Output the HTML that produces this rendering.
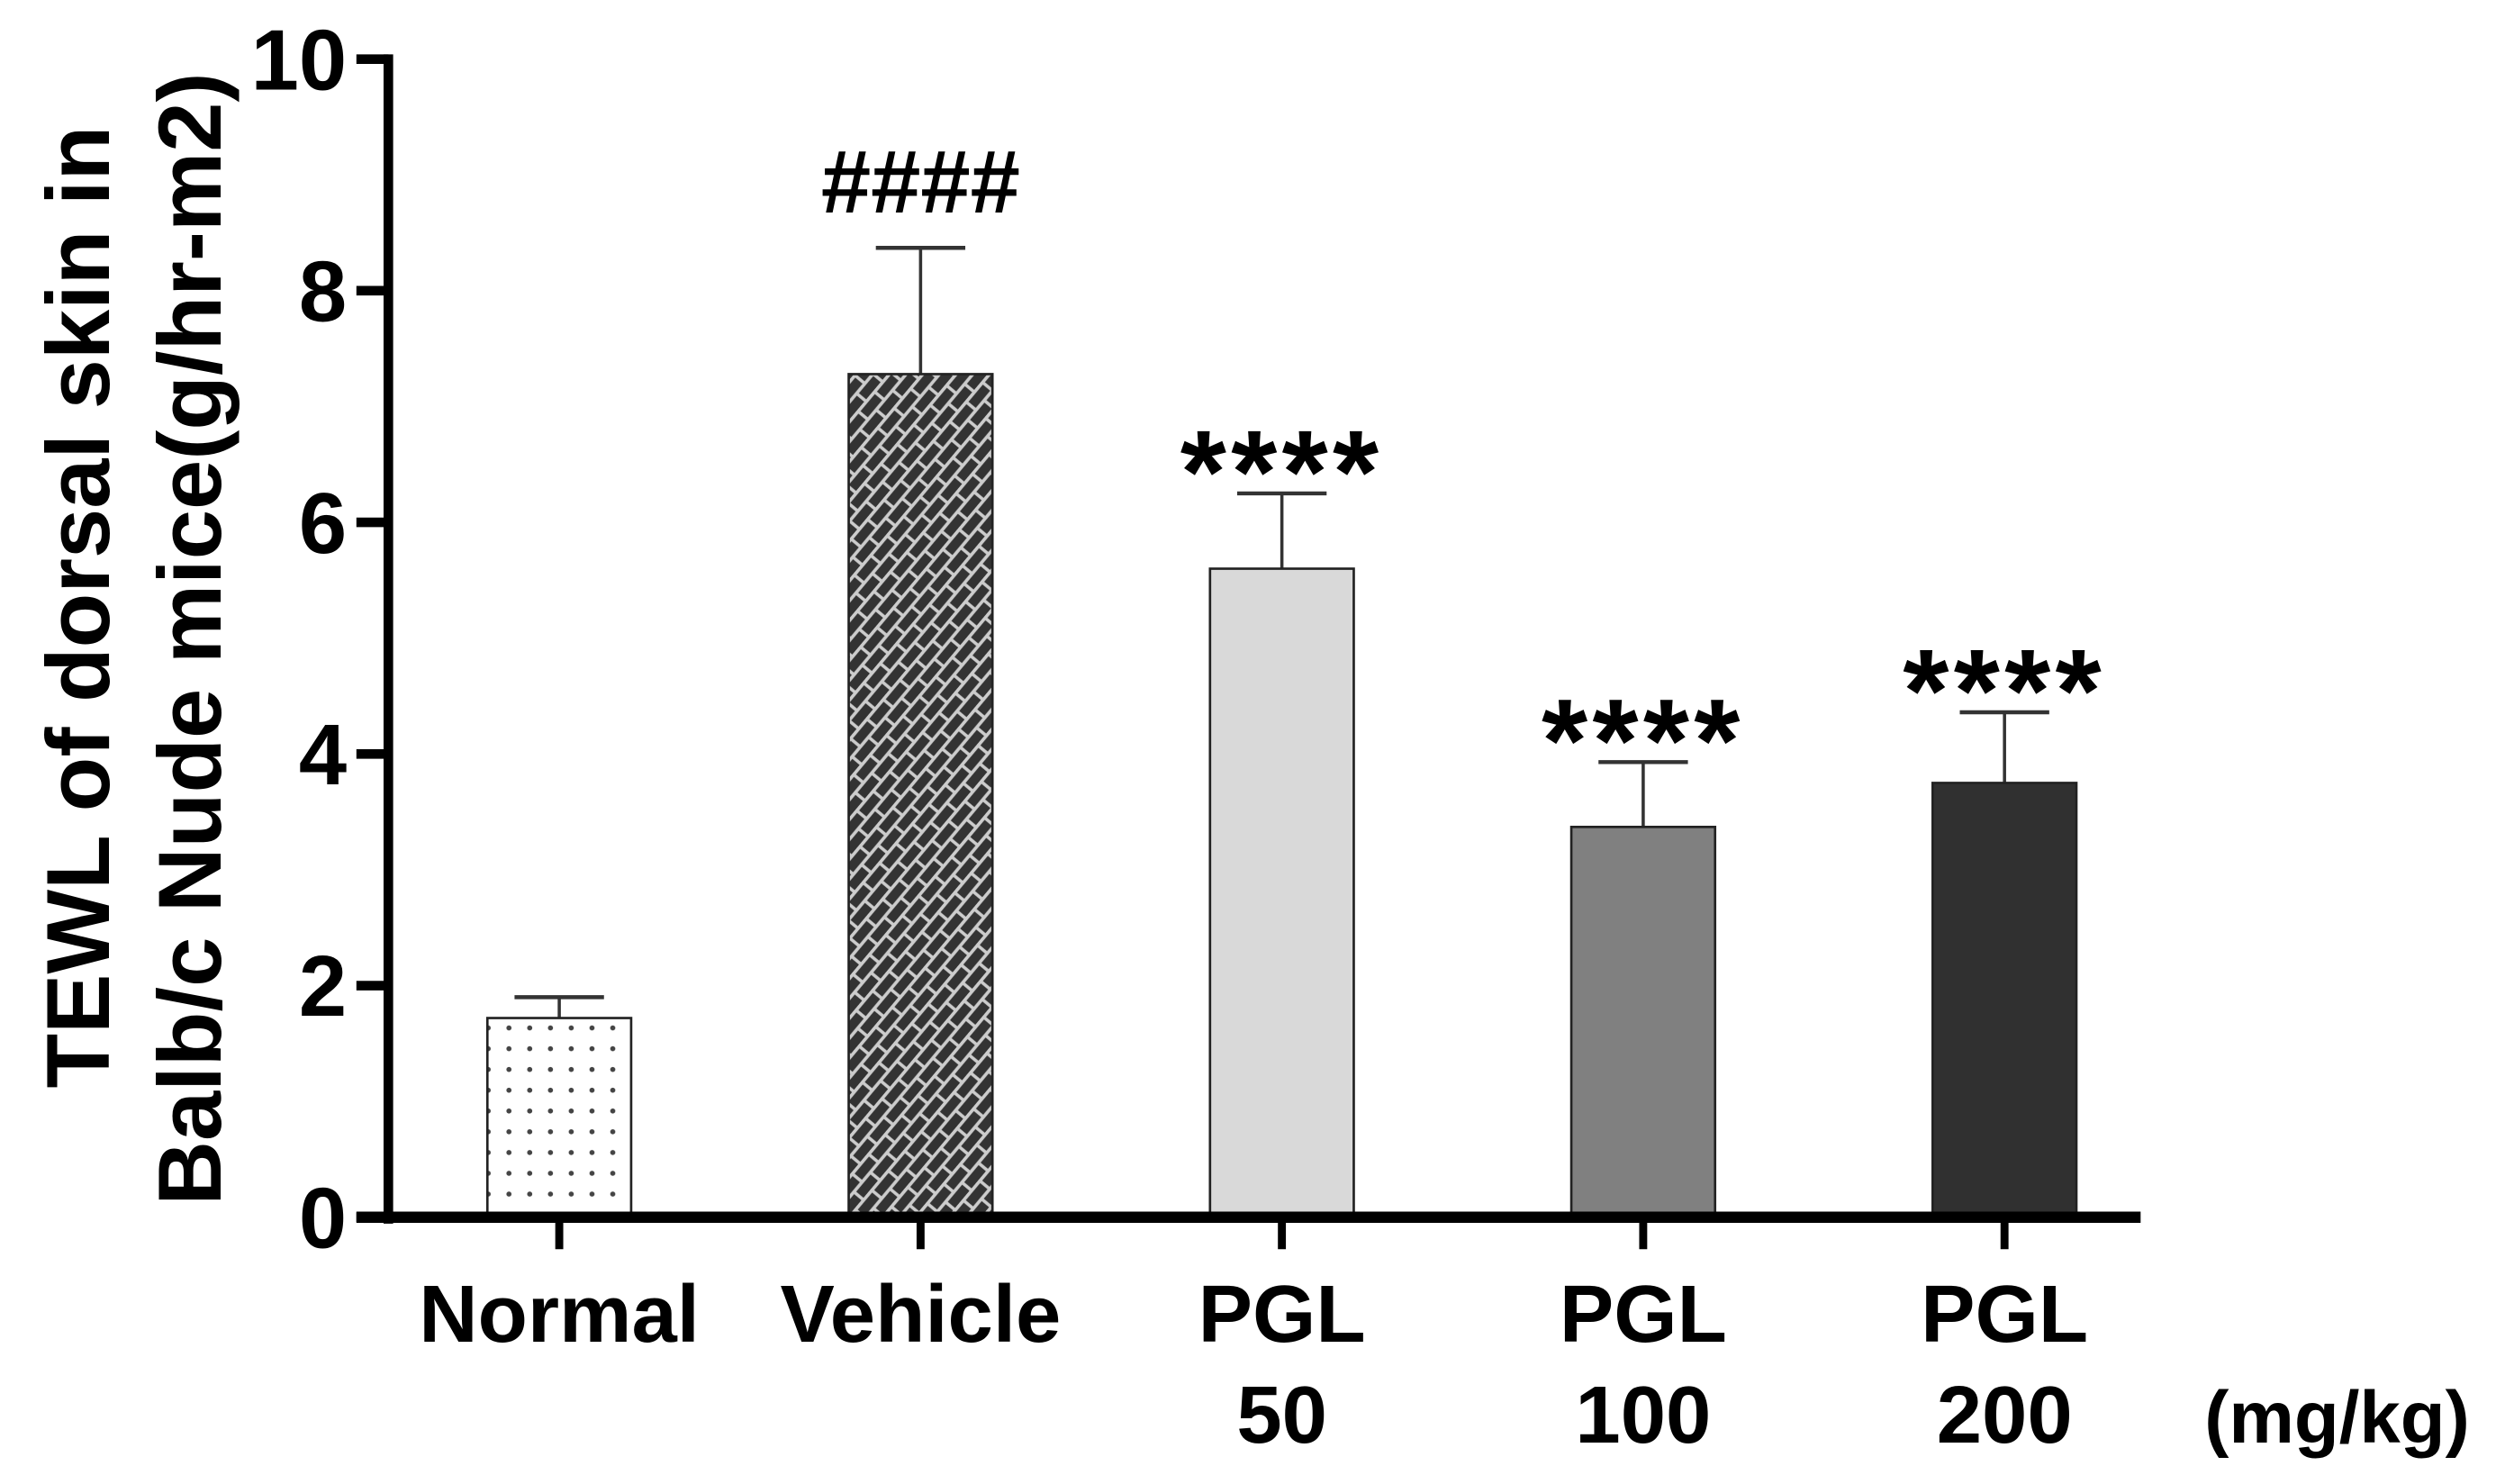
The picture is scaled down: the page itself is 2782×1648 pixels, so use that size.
<!DOCTYPE html>
<html><head><meta charset="utf-8"><style>
html,body{margin:0;padding:0;background:#fff;}
svg{display:block;}
text{font-family:"Liberation Sans",Arial,sans-serif;font-weight:bold;fill:#000;}
</style></head><body>
<svg id="chart" width="2782" height="1648" viewBox="0 0 1568 929" xmlns="http://www.w3.org/2000/svg">
<defs>
<pattern id="dots" patternUnits="userSpaceOnUse" width="13" height="13"><rect width="13" height="13" fill="#fff"/><circle cx="6.5" cy="6.5" r="1.6" fill="#444"/></pattern>
<pattern id="brick" patternUnits="userSpaceOnUse" width="16" height="16" patternTransform="rotate(-50)"><rect width="16" height="16" fill="#333"/><line x1="0" y1="1" x2="16" y2="1" stroke="#ccc" stroke-width="2"/><line x1="0" y1="9" x2="16" y2="9" stroke="#ccc" stroke-width="2"/><line x1="4" y1="1" x2="4" y2="9" stroke="#ccc" stroke-width="2"/><line x1="12" y1="9" x2="12" y2="17" stroke="#ccc" stroke-width="2"/></pattern>
</defs>
<g id="plot"></g>
</svg>
<script>
const categories = ["Normal","Vehicle","PGL 50","PGL 100","PGL 200"];
const means = [1.72, 7.28, 5.6, 3.37, 3.75];
const errors = [0.18, 1.09, 0.65, 0.56, 0.61];
const marks = ["", "####", "****", "****", "****"];
const yTicks = [0,2,4,6,8,10];
const line1 = ["Normal","Vehicle","PGL","PGL","PGL"];
const line2 = ["","","50","100","200"];
const fills = ["url(#dots)","url(#brick)","#d9d9d9","#808080","#303030"];

const NS="http://www.w3.org/2000/svg";
const g=document.getElementById('plot');
const x0=243, y0=762, yTop=37, xEnd=1340;
const yScale=v=>y0-(v/10)*(y0-yTop);
const xScale=i=>350+i*226.2;
function mk(tag,attrs,parent){const e=document.createElementNS(NS,tag);for(const k in attrs)e.setAttribute(k,attrs[k]);(parent||g).appendChild(e);return e;}

categories.forEach((c,i)=>{
  const cx=xScale(i), bw=90;
  const yv=yScale(means[i]), ye=yScale(means[i]+errors[i]);
  const el=mk('line',{x1:cx,x2:cx,y1:yv,y2:ye,stroke:'#333','stroke-width':2});
  
  
  const cap=mk('line',{x1:cx-28,x2:cx+28,y1:ye,y2:ye,stroke:'#333','stroke-width':2.5});
  
  
  const b=mk('rect',{x:cx-bw/2,y:yv,width:bw,height:y0-yv,fill:fills[i],stroke:'#222','stroke-width':1.5});
  
  
  if(marks[i]){
    const isHash=marks[i][0]=='#';
    const t=mk('text',{x:cx,y:ye-(isHash?22:-12),'text-anchor':'middle','font-size':isHash?56:74,'font-weight':isHash?'bold':'normal','letter-spacing':isHash?0:3});
    t.textContent=marks[i];
    
    
  }
  const tk=mk('line',{x1:cx,x2:cx,y1:y0,y2:y0+20,stroke:'#000','stroke-width':5});
  
  
  const l1=mk('text',{x:cx,y:840,'text-anchor':'middle','font-size':51});
  l1.textContent=line1[i];
  
  
  if(line2[i]){
    const l2=mk('text',{x:cx,y:903,'text-anchor':'middle','font-size':51});
    l2.textContent=line2[i];
    
    
  }
});
const ya=mk('line',{x1:x0,x2:x0,y1:yTop-3,y2:y0+4,stroke:'#000','stroke-width':6});


const xa=mk('line',{x1:x0-20,x2:xEnd,y1:y0,y2:y0,stroke:'#000','stroke-width':7});


yTicks.forEach(v=>{
  const y=yScale(v);
  const t=mk('line',{x1:x0-20,x2:x0,y1:y,y2:y,stroke:'#000','stroke-width':6});
  
  
  const l=mk('text',{x:x0-26,y:y+19,'text-anchor':'end','font-size':54});
  l.textContent=v;
  
  
});
const unit=mk('text',{x:1463,y:903,'text-anchor':'middle','font-size':46});
unit.textContent='(mg/kg)';


const t1=mk('text',{x:0,y:0,'text-anchor':'middle','font-size':56,transform:'translate(68,380) rotate(-90)'});
t1.textContent='TEWL of dorsal skin in';


const t2=mk('text',{x:0,y:0,'text-anchor':'middle','font-size':56,transform:'translate(138,400) rotate(-90)'});
t2.textContent='Balb/c Nude mice(g/hr-m2)';


</script>
</body></html>
